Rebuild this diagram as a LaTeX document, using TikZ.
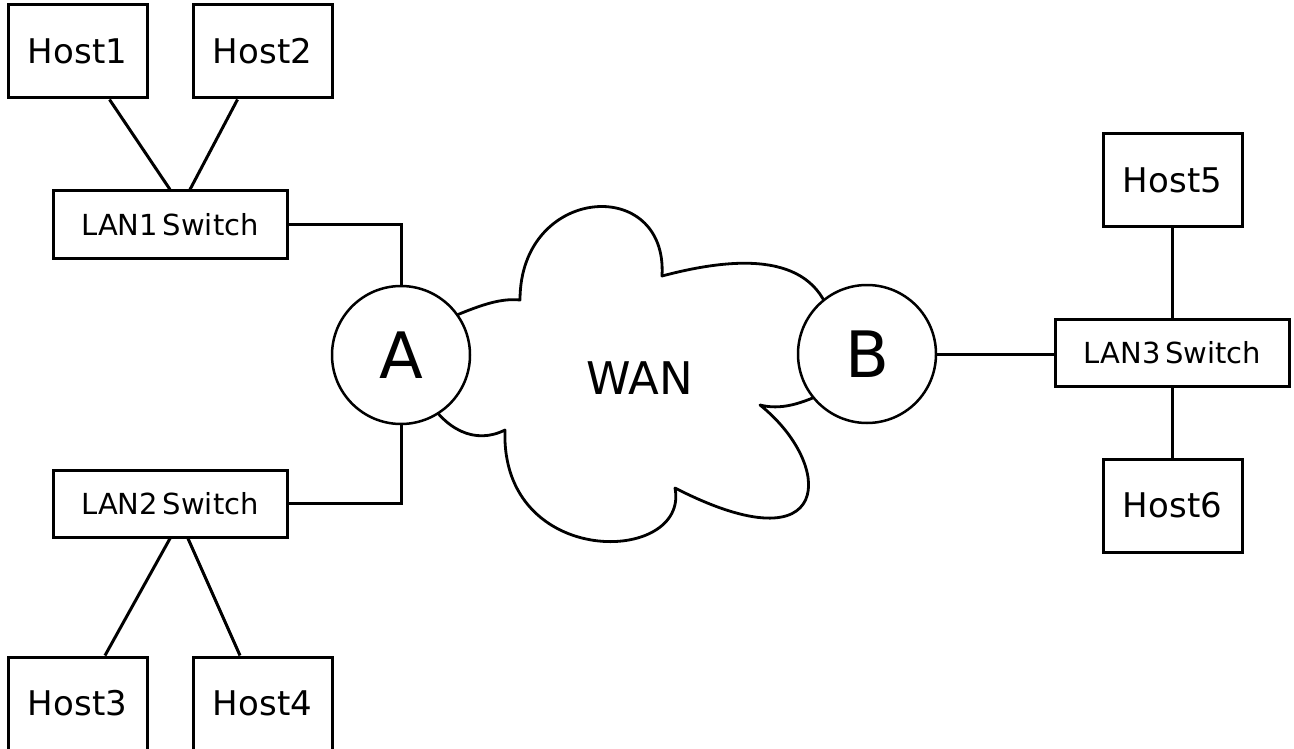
\documentclass[tikz,border=0pt]{standalone}
\usepackage{fontspec}
\setmainfont{DejaVu Sans}

\tikzset{
	host/.style={draw, line width=3pt, minimum width=139pt, minimum height=93pt, inner sep=0pt, font=\fontsize{34}{40}\selectfont},
	switchbox/.style={draw, line width=3pt, minimum width=234pt, minimum height=67pt, inner sep=0pt, font=\fontsize{29}{32}\selectfont},
	router/.style={draw, circle, fill=white, line width=2.5pt, minimum size=138pt, inner sep=0pt, font=\fontsize{64}{70}\selectfont},
	link/.style={line width=3pt},
}

\begin{document}
\begin{tikzpicture}[x=1pt, y=-1pt]

	%%% Frame
	\clip (0,0) rectangle (1294,749);

	%%% WAN cloud
	\draw[line width=2.8pt, line join=round] (445,320)
		.. controls (480,305) and (500,298) .. (520,300)
		.. controls (520,185) and (668,175) .. (662,276)
		.. controls (730,258) and (810,250) .. (830,315)
		-- (830,390)
		.. controls (800,405) and (780,410) .. (760,405)
		.. controls (835,465) and (835,570) .. (675,488)
		.. controls (690,565) and (500,570) .. (505,430)
		.. controls (475,445) and (445,430) .. (425,395) -- cycle;
	\node[font=\fontsize{45}{50}\selectfont] (wan) at (640,378) {WAN};

	%%% Routers
	\node[router] (routerA) at (401,355) {A};
	\node[router] (routerB) at (867,354) {B};

	%%% Switches
	\node[switchbox] (lan1) at (170,224.5) {LAN1\,Switch};
	\node[switchbox] (lan2) at (170,503.5) {LAN2\,Switch};
	\node[switchbox] (lan3) at (1172.5,353) {LAN3\,Switch};

	%%% Hosts
	\node[host] (host1) at (77.5,51.5) {Host1};
	\node[host] (host2) at (262.5,51.5) {Host2};
	\node[host] (host3) at (77.5,703.5) {Host3};
	\node[host] (host4) at (262.5,703.5) {Host4};
	\node[host] (host5) at (1172.5,180) {Host5};
	\node[host] (host6) at (1172.5,505.5) {Host6};

	%%% Links
	\draw[link] ([xshift=32pt]host1.south) -- (lan1.north);
	\draw[link] ([xshift=-25pt]host2.south) -- ([xshift=20pt]lan1.north);
	\draw[link] (lan2.south) -- ([xshift=27.5pt]host3.north);
	\draw[link] ([xshift=18pt]lan2.south) -- ([xshift=-22.5pt]host4.north);
	\draw[link] (lan1.east) -| (routerA.north);
	\draw[link] (lan2.east) -| (routerA.south);
	\draw[link] (routerB.east) -- (routerB.east -| lan3.west);
	\draw[link] (host5.south) -- (lan3.north);
	\draw[link] (lan3.south) -- (host6.north);

\end{tikzpicture}
\end{document}
